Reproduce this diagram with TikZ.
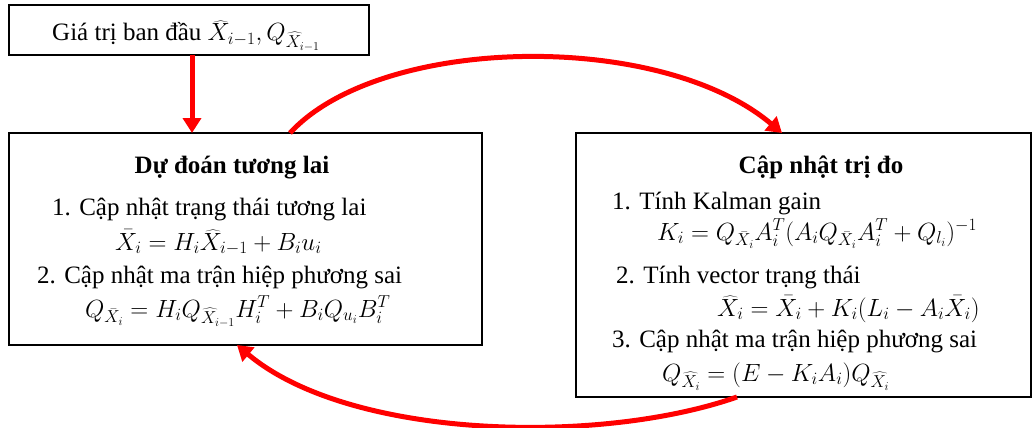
\documentclass[tikz,border=0pt]{standalone}
\usepackage{fontspec}
\setmainfont{Liberation Serif}
\usetikzlibrary{arrows.meta}
\tikzset{
  box/.style={draw=black, line width=2.5pt, rectangle, inner sep=0pt, outer sep=0pt, anchor=north west},
  txt/.style={anchor=base west, inner sep=0pt, font=\fontsize{25}{30}\selectfont},
  ttl/.style={anchor=base, inner sep=0pt, font=\fontsize{25}{30}\selectfont\bfseries},
  arr/.style={draw=red, line width=5pt, -{Triangle[width=18pt,length=15pt]}},
}
\begin{document}
\begin{tikzpicture}[x=1pt, y=-1pt]
\useasboundingbox (0,0) rectangle (1033,428);
% boxes
\node[box, minimum width=360pt, minimum height=50pt] (top) at (9,5) {};
\node[box, minimum width=473pt, minimum height=212pt] (left) at (9,133) {};
\node[box, minimum width=455pt, minimum height=264pt] (right) at (576,133) {};
% top box text
\node[txt] (t0) at (52,41) {Giá trị ban đầu $\widehat{X}_{i-1}, Q_{\widehat{X}_{i-1}}$};
% left box
\node[ttl] (lt) at (232,173) {Dự đoán tương lai};
\node[txt] (l1) at (52,215) {1. Cập nhật trạng thái tương lai};
\node[txt] (l2) at (115,250) {$\bar{X}_i = H_i\widehat{X}_{i-1} + B_i u_i$};
\node[txt] (l3) at (37,283) {2. Cập nhật ma trận hiệp phương sai};
\node[txt] (l4) at (85,317) {$Q_{\bar{X}_i} = H_i Q_{\widehat{X}_{i-1}} H_i^T + B_i Q_{u_i} B_i^T$};
% right box
\node[ttl] (rt) at (821,173) {Cập nhật trị đo};
\node[txt] (r1) at (612,209) {1. Tính Kalman gain};
\node[txt] (r2) at (657,240) {$K_i = Q_{\bar{X}_i} A_i^T (A_i Q_{\bar{X}_i} A_i^T + Q_{l_i})^{-1}$};
\node[txt] (r3) at (616,283) {2. Tính vector trạng thái};
\node[txt] (r4) at (717,316) {$\widehat{X}_i = \bar{X}_i + K_i(L_i - A_i\bar{X}_i)$};
\node[txt] (r5) at (612,347) {3. Cập nhật ma trận hiệp phương sai};
\node[txt] (r6) at (662,381) {$Q_{\widehat{X}_i} = (E - K_i A_i) Q_{\widehat{X}_i}$};
% arrows
\draw[arr] ([xshift=183pt]top.south west) -- ([xshift=183pt]left.north west);
\draw[arr] ([xshift=281pt]left.north west) .. controls (380,35) and (660,30) .. ([xshift=206pt]right.north west);
\draw[arr] ([xshift=161pt]right.south west) .. controls (600,445) and (350,440) .. ([xshift=228pt]left.south west);
\end{tikzpicture}
\end{document}
